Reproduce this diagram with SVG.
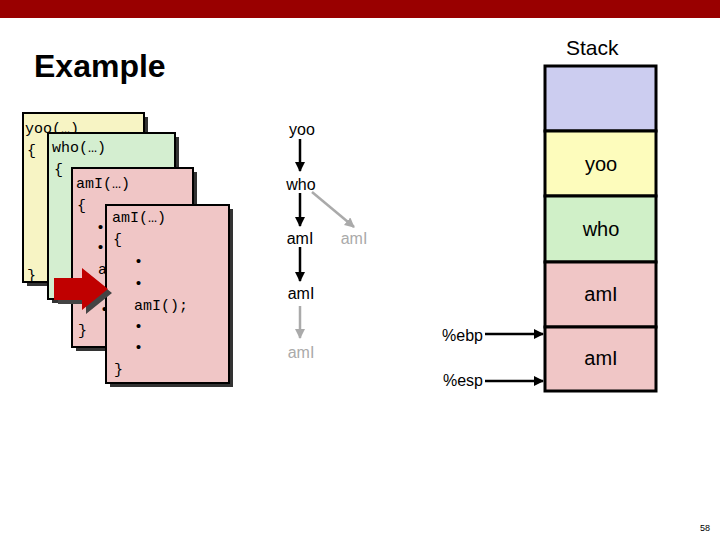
<svg xmlns="http://www.w3.org/2000/svg" width="720" height="540" viewBox="0 0 720 540">
<defs>
<style>
.m{font-family:"Liberation Mono",monospace;font-size:15px;fill:#000}
.s{font-family:"Liberation Sans",Arial,sans-serif;fill:#000}
.card{stroke:#000;stroke-width:2}
.sh{fill:#333}
.cell{stroke:#000;stroke-width:3}
</style>
<marker id="ab" viewBox="0 0 10 10" refX="9" refY="5" markerWidth="4" markerHeight="4" orient="auto"><path d="M0,0L10,5L0,10z" fill="#000"/></marker>
<marker id="ag" viewBox="0 0 10 10" refX="9" refY="5" markerWidth="4" markerHeight="4" orient="auto"><path d="M0,0L10,5L0,10z" fill="#aaa"/></marker>
</defs>
<rect width="720" height="540" fill="#fff"/>
<rect width="720" height="18" fill="#990000"/>
<text x="34" y="77" class="s" font-size="32" font-weight="bold">Example</text>
<text x="566" y="55" class="s" font-size="21">Stack</text>
<text x="700" y="531" class="s" font-size="9">58</text>

<g id="card-yoo">
<rect x="27" y="117" width="121" height="169" class="sh"/>
<rect x="23" y="113" width="121" height="169" fill="#f7f4c4" class="card"/>
<text x="25" y="133" class="m">yoo(…)</text><text x="27" y="155" class="m">{</text><text x="27" y="280" class="m">}</text>
</g>
<g id="card-who">
<rect x="52" y="137" width="127" height="166" class="sh"/>
<rect x="48" y="133" width="127" height="166" fill="#d4eed0" class="card"/>
<text x="52" y="152" class="m">who(…)</text><text x="54" y="174" class="m">{</text>
</g>
<g id="card-ami1">
<rect x="76" y="172" width="121" height="179" class="sh"/>
<rect x="72" y="168" width="121" height="179" fill="#f0c6c6" class="card"/>
<text x="76" y="188" class="m">amI(…)</text><text x="77" y="210" class="m">{</text>
<text x="96" y="232" class="m">•</text><text x="96" y="252" class="m">•</text>
<text x="98" y="274" class="m">a</text><text x="100" y="314" class="m">•</text>
<text x="78" y="335" class="m">}</text>
</g>
<g id="card-ami2">
<rect x="110" y="209" width="123" height="178" class="sh"/>
<rect x="106" y="205" width="123" height="178" fill="#f0c6c6" class="card"/>
<text x="112" y="222" class="m">amI(…)</text><text x="113" y="244" class="m">{</text>
<text x="134" y="266" class="m">•</text><text x="134" y="288" class="m">•</text>
<text x="134" y="310" class="m">amI();</text>
<text x="134" y="331" class="m">•</text><text x="134" y="352" class="m">•</text>
<text x="114" y="374" class="m">}</text>
</g>
<g id="red-arrow">
<path d="M58,282 H86 V272 L112,293 L86,314 V304 H58 Z" fill="#444"/>
<path d="M54,278 H82 V268 L108,289 L82,310 V300 H54 Z" fill="#c00000"/>
</g>

<g id="tree" class="s" font-size="16">
<text x="302" y="135" text-anchor="middle">yoo</text>
<text x="301" y="190" text-anchor="middle">who</text>
<text x="300" y="244" text-anchor="middle">amI</text>
<text x="354" y="244" text-anchor="middle" fill="#aaa">amI</text>
<text x="301" y="299" text-anchor="middle">amI</text>
<text x="301" y="358" text-anchor="middle" fill="#aaa">amI</text>
</g>

<g id="stack">
<rect x="545" y="66" width="111" height="65" fill="#cccdf0" class="cell"/>
<rect x="545" y="131" width="111" height="65" fill="#fdfcbc" class="cell"/>
<rect x="545" y="196" width="111" height="66" fill="#d0f0c8" class="cell"/>
<rect x="545" y="262" width="111" height="65" fill="#f0c6c6" class="cell"/>
<rect x="545" y="327" width="111" height="64" fill="#f0c6c6" class="cell"/>
<g class="s" font-size="20" text-anchor="middle">
<text x="601" y="171">yoo</text><text x="601" y="236">who</text>
<text x="601" y="301">amI</text><text x="601" y="365">amI</text>
</g>
<text x="483" y="341" class="s" font-size="16" text-anchor="end">%ebp</text>
<text x="483" y="386" class="s" font-size="16" text-anchor="end">%esp</text>
</g>

<g id="connectors" stroke-width="2.5" fill="none">
<line x1="300" y1="139" x2="300" y2="171" stroke="#000" marker-end="url(#ab)"/>
<line x1="300" y1="193" x2="300" y2="226" stroke="#000" marker-end="url(#ab)"/>
<line x1="300" y1="247" x2="300" y2="281" stroke="#000" marker-end="url(#ab)"/>
<line x1="300" y1="306" x2="300" y2="338" stroke="#aaa" marker-end="url(#ag)"/>
<line x1="312" y1="192" x2="354" y2="227" stroke="#aaa" marker-end="url(#ag)"/>
<line x1="485" y1="334" x2="543" y2="334" stroke="#000" marker-end="url(#ab)"/>
<line x1="485" y1="381" x2="543" y2="381" stroke="#000" marker-end="url(#ab)"/>
</g>
</svg>
